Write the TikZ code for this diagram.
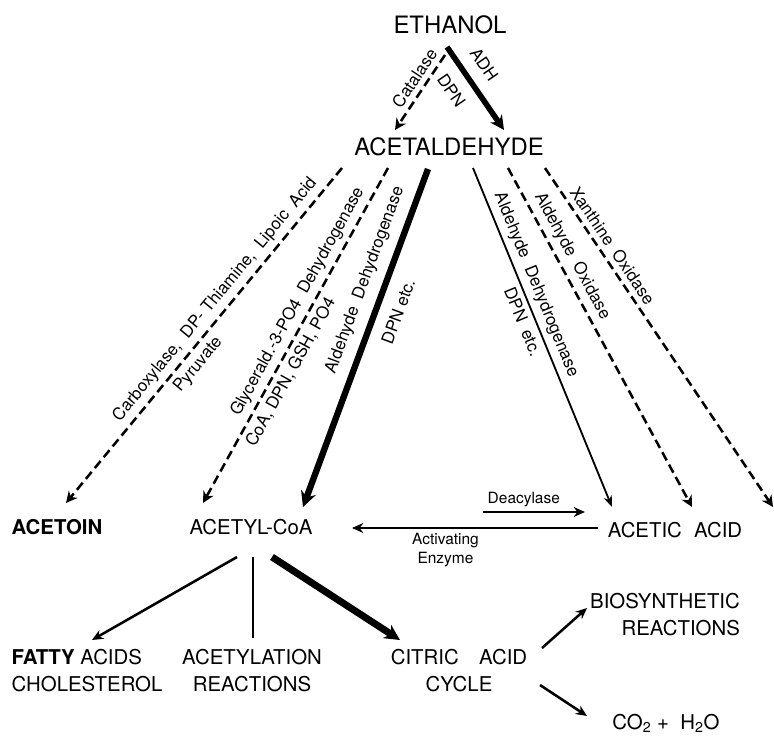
\documentclass[tikz,border=0pt]{standalone}
\usepackage{fontspec}
\setmainfont{TeX Gyre Heros}
\usetikzlibrary{arrows.meta,calc}

\begin{document}
\begin{tikzpicture}[
    x=0.025cm, y=-0.025cm,
    every node/.style={inner sep=0pt},
    big/.style={font=\fontsize{17}{20}\selectfont},
    chem/.style={font=\fontsize{14.5}{19.2}\selectfont, align=center},
    enz/.style={font=\fontsize{12}{14}\selectfont, inner sep=3.5pt, sloped},
    enzflat/.style={font=\fontsize{11}{13}\selectfont, inner sep=3pt, align=center},
    dasharrow/.style={line width=1.8pt, dash pattern=on 6.5pt off 3.5pt, -{Stealth[length=8pt, width=8pt, inset=2.5pt]}},
    thinarrow/.style={line width=1.3pt, -{Stealth[length=8pt, width=6pt]}},
    heavyarrow/.style={line width=4.5pt, -{Stealth[length=11pt, width=11pt]}},
    arrow/.style={line width=1.8pt, -{Stealth[length=8pt, width=7pt]}}
]
\useasboundingbox (0,0) rectangle (774,735);

\node[big] (eth) at (450,25) {ETHANOL};
\node[big] (ald) at (449,147) {ACETALDEHYDE};
\node[chem, font=\fontsize{14.5}{19.2}\selectfont\bfseries] (acetoin) at (57,527) {ACETOIN};
\node[chem] (acoa) at (251,527) {ACETYL-CoA};
\node[chem] (acetic) at (675,530) {ACETIC\hspace{0.6em}ACID};
\node[chem, align=left] (fatty) at (87,671) {\textbf{FATTY} ACIDS\\CHOLESTEROL};
\node[chem] (acetyl) at (252,671) {ACETYLATION\\REACTIONS};
\node[chem] (citric) at (459,671) {CITRIC\hspace{1em}ACID\\CYCLE};
\node[chem, align=right] (bio) at (665,615) {BIOSYNTHETIC\\REACTIONS};
\node[chem] (co2) at (666,723) {CO\textsubscript{2}\ + \ H\textsubscript{2}O};

\draw[dasharrow] ($(eth)+(-5,30)$) -- ($(ald)+(-54,-17)$)
    node[enz, above, pos=0.4] {Catalase};
\draw[line width=4pt, -{Stealth[length=10pt, width=10pt]}] ($(eth)+(-3,22)$) -- ($(ald)+(55,-17)$)
    node[enz, above=5pt, pos=0.35] {ADH}
    node[enz, below=5pt, pos=0.38] {DPN};

\draw[dasharrow] ($(ald)+(-107,21)$) -- ($(acetoin)+(9,-24)$)
    node[enz, above, pos=0.42] {Carboxylase,\ \ DP- Thiamine,\ \ Lipoic\ \ Acid}
    node[enz, below, pos=0.56] {Pyruvate};
\draw[dasharrow] ($(ald)+(-61,21)$) -- ($(acoa)+(-48,-24)$)
    node[enz, above, pos=0.42] {Glycerald.-3-PO4\ \ Dehydrogenase}
    node[enz, below, pos=0.59] {CoA, DPN, GSH, PO4};
\draw[heavyarrow] ($(ald)+(-21,22)$) -- ($(acoa)+(52,-20)$)
    node[enz, above=3pt, pos=0.35] {Aldehyde\ \ Dehydrogenase}
    node[enz, below=5pt, pos=0.4] {DPN etc.};
\draw[thinarrow] ($(ald)+(24,21)$) -- ($(acetic)+(-63,-23)$)
    node[enz, above, pos=0.36] {Aldehyde\ \ Dehydrogenase}
    node[enz, below, pos=0.44] {DPN\ \ etc.};
\draw[dasharrow] ($(ald)+(59,21)$) -- ($(acetic)+(17,-23)$)
    node[enz, above, pos=0.28] {Aldehyde\ \ Oxidase};
\draw[dasharrow] ($(ald)+(96,21)$) -- ($(acetic)+(98,-23)$)
    node[enz, above, pos=0.25] {Xanthine\ \ Oxidase};

\draw[arrow] ($(acoa)+(232,-15)$) -- ($(acetic)+(-90,-18)$)
    node[enzflat, above, pos=0.4] {Deacylase};
\draw[arrow] ($(acetic)+(-77,-2)$) -- ($(acoa)+(101,1)$)
    node[enzflat, below, pos=0.62] {Activating\\Enzyme};

\draw[arrow] ($(acoa)+(-14,30)$) -- ($(fatty)+(5,-31)$);
\draw[line width=1.4pt] ($(acoa)+(2,30)$) -- ($(acetyl)+(1,-33)$);
\draw[heavyarrow, line width=5pt] ($(acoa)+(21,30)$) -- ($(citric)+(-59,-31)$);
\draw[arrow] ($(citric)+(83,-23)$) -- ($(bio)+(-78,-7)$);
\draw[arrow] ($(citric)+(81,14)$) -- ($(co2)+(-79,-7)$);

\end{tikzpicture}
\end{document}
